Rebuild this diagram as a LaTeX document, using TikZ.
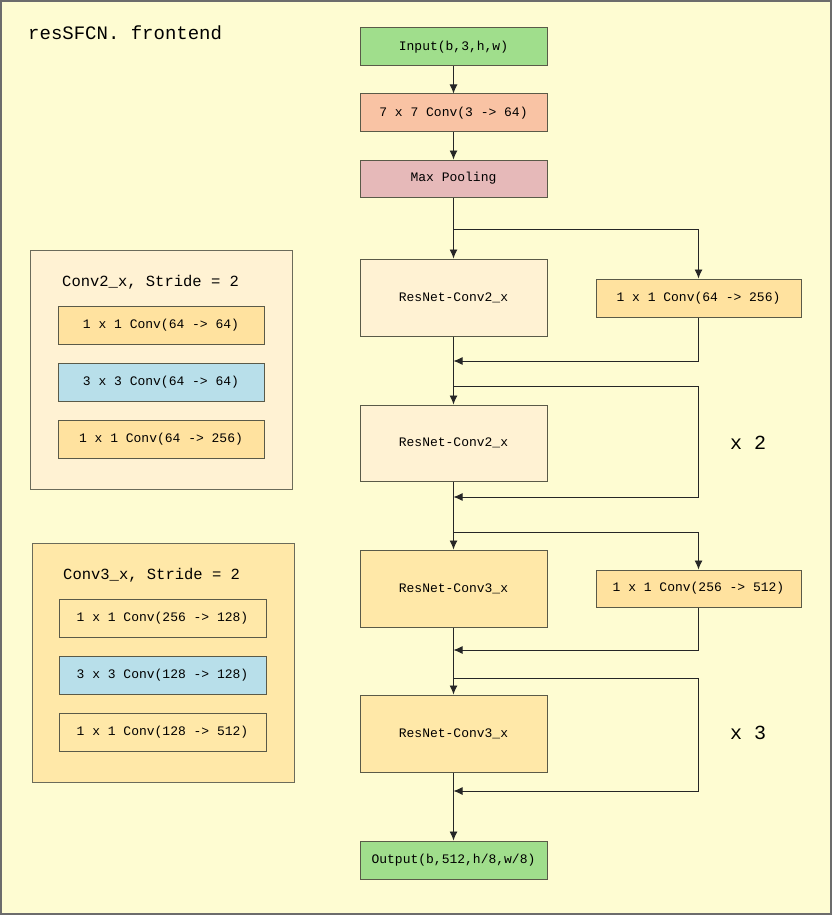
\documentclass[tikz,border=0pt]{standalone}
\usepackage{fontspec}
\setmonofont{Liberation Mono}
\usetikzlibrary{arrows.meta}
\definecolor{bgyellow}{HTML}{FEFCD2}
\definecolor{ingreen}{HTML}{A0DE8C}
\definecolor{salmon}{HTML}{F9C3A4}
\definecolor{pinkpool}{HTML}{E6B9B9}
\definecolor{cream}{HTML}{FFF2D3}
\definecolor{convorange}{HTML}{FFE29F}
\definecolor{deepcream}{HTML}{FFE8A8}
\definecolor{lightblue}{HTML}{B8DFEA}
\definecolor{edgegray}{HTML}{5A5A48}
\begin{document}
\begin{tikzpicture}[x=1pt,y=-1pt,
  font=\ttfamily\fontsize{13}{15}\selectfont,
  box/.style={draw=edgegray, line width=1pt, rectangle, inner sep=0pt, minimum width=187pt},
  flowbox/.style={box, minimum height=38pt},
  resbox/.style={box, minimum height=77pt},
  sidebox/.style={box, minimum width=205pt, minimum height=38pt, fill=convorange},
  subbox/.style={box, minimum width=206pt, minimum height=38pt},
  panel/.style={draw=edgegray!90, line width=1pt},
  link/.style={draw=black!85, line width=0.9pt},
  arr/.style={link, -{Latex[length=9pt,width=8pt]}},
  bigtext/.style={font=\ttfamily\fontsize{20}{22}\selectfont},
  paneltitle/.style={font=\ttfamily\fontsize{15.5}{18}\selectfont, anchor=west, inner sep=0pt}
]
\useasboundingbox (0,0) rectangle (832,915);
\fill[bgyellow] (0,0) rectangle (832,915);
\draw[draw=gray!85!black, line width=1.2pt] (1,1) rectangle (831,914);

% title
\node[font=\ttfamily\fontsize{19}{22}\selectfont, anchor=west, inner sep=0pt] (title) at (28,33) {resSFCN. frontend};

% main column
\node[flowbox, fill=ingreen] (in) at (453.5,47) {Input(b,3,h,w)};
\node[flowbox, fill=salmon] (c7) at (453.5,113) {7 x 7 Conv(3 -> 64)};
\node[flowbox, fill=pinkpool, minimum height=37pt] (mp) at (453.5,178.5) {Max Pooling};
\node[resbox, fill=cream] (r1) at (453.5,297.5) {ResNet-Conv2\_x};
\node[sidebox] (s1) at (698.5,298) {1 x 1 Conv(64 -> 256)};
\node[resbox, fill=cream, minimum height=76pt] (r2) at (453.5,443) {ResNet-Conv2\_x};
\node[resbox, fill=deepcream] (r3) at (453.5,588.5) {ResNet-Conv3\_x};
\node[sidebox, minimum height=37pt] (s2) at (698.5,588.5) {1 x 1 Conv(256 -> 512)};
\node[resbox, fill=deepcream] (r4) at (453.5,733.5) {ResNet-Conv3\_x};
\node[flowbox, fill=ingreen] (out) at (453.5,860) {Output(b,512,h/8,w/8)};

\node[bigtext] (x2) at (748,443) {x 2};
\node[bigtext] (x3) at (748,733) {x 3};

% junction coordinates
\coordinate (b1) at (453.5,229);
\coordinate (m1) at (453.5,361);
\coordinate (b2) at (453.5,386);
\coordinate (m2) at (453.5,497);
\coordinate (b3) at (453.5,532);
\coordinate (m3) at (453.5,650);
\coordinate (b4) at (453.5,678);
\coordinate (m4) at (453.5,791);

% connectors
\draw[arr] (in) -- (c7);
\draw[arr] (c7) -- (mp);
\draw[arr] (mp) -- (r1);
\draw[arr] (b1) -| (s1);
\draw[arr] (s1) |- (m1);
\draw[arr] (r1) -- (r2);
\draw[arr] (b2) -- (b2 -| s1) |- (m2);
\draw[arr] (r2) -- (r3);
\draw[arr] (b3) -| (s2);
\draw[arr] (s2) |- (m3);
\draw[arr] (r3) -- (r4);
\draw[arr] (b4) -- (b4 -| s2) |- (m4);
\draw[arr] (r4) -- (out);

% left panel 1
\draw[panel, fill=cream] (30,250) rectangle (292,489);
\node[paneltitle] (p1t) at (62,282) {Conv2\_x, Stride = 2};
\node[subbox, fill=convorange] (p1a) at (161,325.5) {1 x 1 Conv(64 -> 64)};
\node[subbox, fill=lightblue] (p1b) at (161,382) {3 x 3 Conv(64 -> 64)};
\node[subbox, fill=convorange] (p1c) at (161,439) {1 x 1 Conv(64 -> 256)};

% left panel 2
\draw[panel, fill=deepcream] (32,543) rectangle (294,782);
\node[paneltitle] (p2t) at (63,575) {Conv3\_x, Stride = 2};
\node[subbox, fill=deepcream, minimum width=207pt] (p2a) at (162.5,618.5) {1 x 1 Conv(256 -> 128)};
\node[subbox, fill=lightblue, minimum width=207pt] (p2b) at (162.5,675.5) {3 x 3 Conv(128 -> 128)};
\node[subbox, fill=deepcream, minimum width=207pt] (p2c) at (162.5,732) {1 x 1 Conv(128 -> 512)};
\end{tikzpicture}
\end{document}
